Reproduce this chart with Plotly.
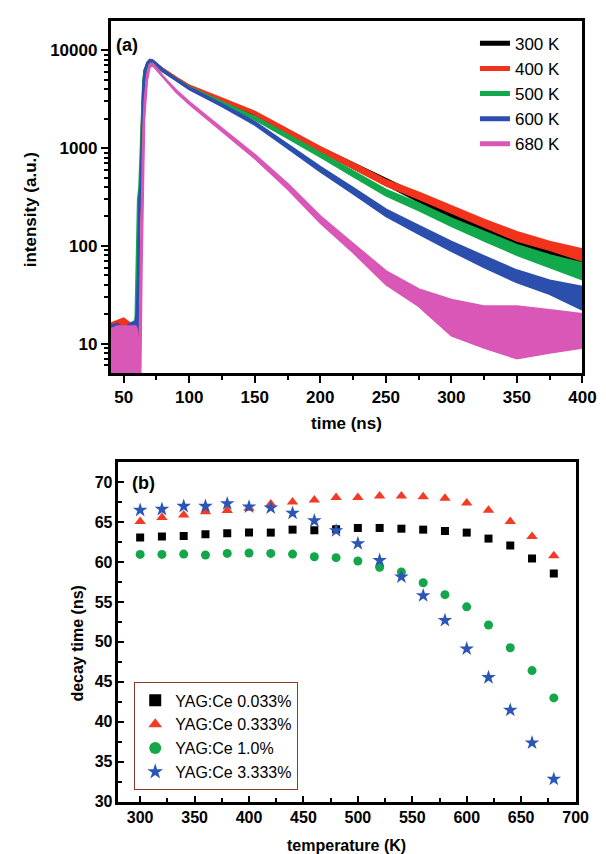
import plotly.graph_objects as go
import math

t_ns = [40, 45, 50, 55, 59, 60, 61, 62, 63, 64, 65, 66, 68, 70, 72, 75, 80, 90, 100,
        125, 150, 175, 200, 225, 250, 275, 300, 325, 350, 375, 400]

k300_hi = [14, 15, 15, 15, 15, 16, 30, 320, 450, 1800, 4200, 6000, 7300, 7900, 7800, 7200, 6400, 5200, 4300,
           3150, 2320, 1530, 1010, 700, 480, 335, 225, 170, 125, 102, 85]
k300_lo = [5, 5, 5, 5, 5, 8, 12, 250, 300, 900, 3000, 5200, 6900, 7600, 7500, 6900, 6100, 5000, 4100,
           3000, 2180, 1410, 920, 620, 420, 285, 190, 140, 100, 82, 66]

k400_hi = [16, 17, 18, 16, 16, 18, 40, 300, 420, 1700, 4000, 5900, 7200, 7800, 7700, 7200, 6400, 5250, 4350,
           3200, 2350, 1550, 1020, 700, 470, 350, 255, 185, 138, 110, 92]
k400_lo = [5, 5, 5, 5, 5, 8, 12, 230, 300, 900, 2900, 5100, 6800, 7500, 7400, 6900, 6150, 5050, 4150,
           3050, 2200, 1420, 920, 615, 410, 300, 215, 155, 112, 90, 70]

k500_hi = [13, 14, 14, 14, 15, 60, 300, 400, 900, 3000, 5000, 6300, 7100, 7300, 7200, 6900, 6200, 5100, 4200,
           2950, 2080, 1370, 900, 580, 375, 270, 190, 140, 102, 80, 66]
k500_lo = [5, 5, 5, 5, 5, 10, 100, 300, 500, 1500, 3800, 5600, 6700, 7000, 6900, 6600, 5950, 4900, 4000,
           2800, 1940, 1260, 810, 510, 325, 230, 158, 112, 80, 60, 45]

k600_hi = [15, 16, 14, 16, 17, 20, 50, 300, 450, 1800, 4300, 6200, 7500, 8000, 7900, 7300, 6300, 5100, 4150,
           2800, 1850, 1090, 640, 390, 235, 160, 110, 78, 56, 44, 38]
k600_lo = [5, 5, 5, 5, 5, 10, 14, 200, 300, 900, 3100, 5400, 7100, 7700, 7600, 7000, 6050, 4900, 3950,
           2650, 1720, 990, 570, 340, 200, 132, 88, 60, 42, 32, 22]

k680_hi = [14, 15, 15, 15, 15, 14, 10, 6, 60, 400, 1500, 3000, 5600, 7100, 7300, 6600, 5400, 3900, 2950,
           1580, 850, 430, 200, 105, 55, 36, 28, 24, 24, 22, 20]
k680_lo = [4, 4, 4, 4, 4, 4, 4, 4, 4, 60, 500, 2000, 4800, 6700, 7000, 6300, 5150, 3700, 2800,
           1480, 780, 380, 170, 85, 40, 24, 12, 9, 7, 8, 9]

curve_names = ["300 K", "400 K", "500 K", "600 K", "680 K"]
curve_hi = [k300_hi, k400_hi, k500_hi, k600_hi, k680_hi]
curve_lo = [k300_lo, k400_lo, k500_lo, k600_lo, k680_lo]
curve_colors = ["#000000", "#f2331c", "#12a84c", "#2c4fae", "#d957b6"]

x_ticks_a = [50, 100, 150, 200, 250, 300, 350, 400]
y_ticks_a = [10, 100, 1000, 10000]
y_ticklabels_a = ["10", "100", "1000", "10000"]

# ---------------- Panel (b): decay time vs temperature
temperature = [300, 320, 340, 360, 380, 400, 420, 440, 460, 480,
               500, 520, 540, 560, 580, 600, 620, 640, 660, 680]
tau_0033 = [63.06, 63.18, 63.26, 63.47, 63.60, 63.68, 63.68, 64.05, 63.97, 64.10,
            64.26, 64.26, 64.17, 64.05, 63.88, 63.68, 62.93, 62.07, 60.45, 58.55]
tau_0333 = [65.08, 65.58, 65.87, 66.28, 66.45, 66.74, 67.27, 67.52, 67.77, 68.06,
            68.06, 68.26, 68.26, 68.18, 67.98, 67.40, 66.49, 65.08, 63.18, 60.79]
tau_1000 = [60.95, 60.95, 60.99, 60.87, 61.07, 61.12, 61.07, 60.99, 60.66, 60.54,
            60.12, 59.34, 58.76, 57.40, 55.91, 54.38, 52.11, 49.26, 46.40, 42.98]
tau_3333 = [66.49, 66.61, 66.98, 66.98, 67.31, 66.90, 66.78, 66.12, 65.17, 63.93,
            62.31, 60.21, 58.14, 55.79, 52.69, 49.13, 45.54, 41.45, 37.36, 32.81]

series_b_names = ["YAG:Ce 0.033%", "YAG:Ce 0.333%", "YAG:Ce 1.0%", "YAG:Ce 3.333%"]
series_b_vals = [tau_0033, tau_0333, tau_1000, tau_3333]
series_b_symbols = ["square", "triangle-up", "circle", "star"]
series_b_sizes = [8, 10, 9, 11]
series_b_colors = ["#000000", "#f23a24", "#14a64a", "#2b56b6"]

x_ticks_b = [300, 350, 400, 450, 500, 550, 600, 650, 700]
y_ticks_b = [30, 35, 40, 45, 50, 55, 60, 65, 70]

FONT = "Liberation Sans, Arial, sans-serif"
W, H = 606, 854

fig = go.Figure()

for name, hi, lo, col in zip(curve_names, curve_hi, curve_lo, curve_colors):
    fig.add_trace(go.Scatter(x=t_ns, y=hi, mode="lines", name=name,
                             line=dict(color=col, width=2.4), legend="legend",
                             xaxis="x", yaxis="y", hoverinfo="skip"))
    fig.add_trace(go.Scatter(x=t_ns, y=lo, mode="lines", name=name, showlegend=False,
                             line=dict(color=col, width=1.4), fill="tonexty", fillcolor=col,
                             legend="legend", xaxis="x", yaxis="y", hoverinfo="skip"))

for name, vals, sym, sz, col in zip(series_b_names, series_b_vals, series_b_symbols,
                                    series_b_sizes, series_b_colors):
    fig.add_trace(go.Scatter(x=temperature, y=vals, mode="markers", name=name,
                             marker=dict(symbol=sym, size=sz, color=col, line=dict(width=0)),
                             legend="legend2", xaxis="x2", yaxis="y2"))

def px_x(p):
    return p / W

def px_y(p):
    return 1 - p / H

minor_log = []
for dec in [1, 10, 100, 1000]:
    for m in range(2, 10):
        v = m * dec
        if 5 < v < 20000:
            minor_log.append(v)

axis_common = dict(showline=True, linecolor="black", linewidth=2.5, mirror=True,
                   showgrid=False, zeroline=False, tickcolor="black", tickwidth=2)

fig.update_layout(
    width=W, height=H,
    margin=dict(l=0, r=0, t=0, b=0),
    paper_bgcolor="white", plot_bgcolor="white",
    font=dict(family=FONT, color="black"),
    showlegend=True,
    xaxis=dict(domain=[px_x(105), px_x(588)], range=[40, 400], anchor="y",
               ticks="outside", ticklen=7, tickvals=x_ticks_a,
               tickfont=dict(size=17, weight="bold", family=FONT),
               minor=dict(ticks="outside", ticklen=4, tickwidth=1.5, tickcolor="black",
                          tickvals=[75, 125, 175, 225, 275, 325, 375]),
               **axis_common),
    yaxis=dict(domain=[px_y(369), px_y(13)], type="log",
               range=[math.log10(5), math.log10(20000)], anchor="x",
               ticks="outside", ticklen=7, tickvals=y_ticks_a, ticktext=y_ticklabels_a,
               tickfont=dict(size=17, weight="bold", family=FONT),
               minor=dict(ticks="outside", ticklen=4, tickwidth=1.5, tickcolor="black",
                          tickvals=minor_log),
               **axis_common),
    xaxis2=dict(domain=[px_x(113), px_x(581)], range=[280, 700], anchor="y2",
                ticks="inside", ticklen=6, tickvals=x_ticks_b,
                tickfont=dict(size=16, weight="bold", family=FONT),
                minor=dict(ticks="inside", ticklen=3.5, tickwidth=1.5, tickcolor="black",
                           tickvals=[325, 375, 425, 475, 525, 575, 625, 675]),
                **axis_common),
    yaxis2=dict(domain=[px_y(802), px_y(459)], range=[30, 72.5], anchor="x2",
                ticks="inside", ticklen=6, tickvals=y_ticks_b,
                tickfont=dict(size=16, weight="bold", family=FONT),
                minor=dict(ticks="inside", ticklen=3.5, tickwidth=1.5, tickcolor="black",
                           tickvals=[32.5, 37.5, 42.5, 47.5, 52.5, 57.5, 62.5, 67.5]),
                **axis_common),
    legend=dict(x=px_x(478), y=px_y(18), xanchor="left", yanchor="top",
                font=dict(size=17, family=FONT), bgcolor="rgba(0,0,0,0)",
                borderwidth=0, tracegroupgap=0, traceorder="normal",
                itemsizing="constant"),
    legend2=dict(x=px_x(129), y=px_y(736), xanchor="left", yanchor="middle",
                 font=dict(size=16, family=FONT), bgcolor="white",
                 bordercolor="#8b3a2a", borderwidth=1.2, tracegroupgap=0,
                 traceorder="normal", itemsizing="constant"),
)

annots = [
    dict(text="(a)", x=px_x(122), y=px_y(37), font=dict(size=18, weight="bold")),
    dict(text="(b)", x=px_x(139), y=px_y(480), font=dict(size=18, weight="bold")),
    dict(text="time (ns)", x=px_x(347), y=px_y(420), font=dict(size=17, weight="bold")),
    dict(text="temperature (K)", x=px_x(347), y=px_y(846), font=dict(size=16, weight="bold")),
    dict(text="intensity (a.u.)", x=px_x(23), y=px_y(204), textangle=-90,
         font=dict(size=17, weight="bold")),
    dict(text="decay time (ns)", x=px_x(71), y=px_y(642), textangle=-90,
         font=dict(size=16, weight="bold")),
]
for a in annots:
    a.update(xref="paper", yref="paper", showarrow=False, xanchor="center", yanchor="middle")
    a["font"].update(family=FONT, color="black")
    fig.add_annotation(**a)

fig.write_html("out.html")
